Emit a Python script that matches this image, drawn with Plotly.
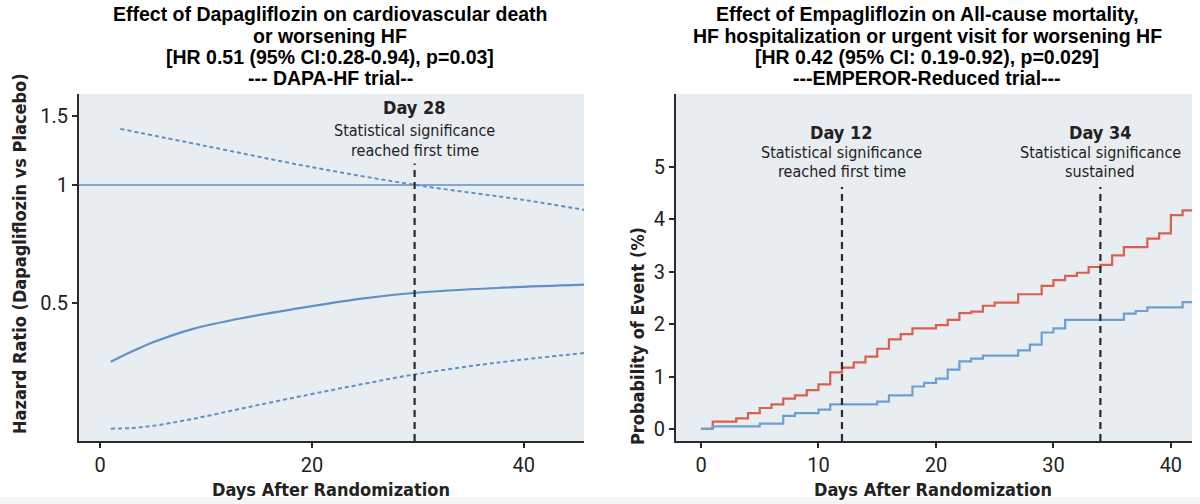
import plotly.graph_objects as go

# ---------------- data ----------------
# Left panel (DAPA-HF): hazard ratio over days
hr_days = [1.0, 3.0, 5.0, 8.7, 13.9, 20.0, 24.9, 29.8, 37.4, 45.8]
hr_est = [0.354, 0.376, 0.397, 0.429, 0.460, 0.491, 0.514, 0.531, 0.546, 0.557]
hr_low = [0.239, 0.240, 0.243, 0.253, 0.271, 0.293, 0.311, 0.329, 0.352, 0.373]
ci_up_days = [1.9, 10.0, 20.0, 30.0, 40.0, 45.8]
hr_high = [1.39, 1.257, 1.11, 0.998, 0.916, 0.863]
left_sig_day = [29.7]
left_xticks = [0, 20, 40]
left_yticks = [0.5, 1, 1.5]
left_yticklabels = ["0.5", "1", "1.5"]

# Right panel (EMPEROR-Reduced): cumulative probability of event (%)
placebo_days = [0, 1, 3, 4, 5, 6, 7, 8, 9, 10, 11, 12, 13, 14, 15, 16, 17, 18, 20, 21,
                22, 23, 24, 25, 27, 29, 30, 31, 32, 33, 34, 35, 36, 38, 39, 40, 41, 42]
placebo_pct = [0, 0.14, 0.20, 0.30, 0.40, 0.47, 0.58, 0.64, 0.74, 0.85, 1.08, 1.17, 1.27,
               1.38, 1.53, 1.71, 1.81, 1.92, 1.98, 2.08, 2.21, 2.24, 2.35, 2.41, 2.57, 2.73,
               2.84, 2.92, 2.98, 3.09, 3.13, 3.31, 3.47, 3.63, 3.73, 4.08, 4.17, 4.17]
empa_days = [0, 1, 5, 7, 8, 10, 11, 15, 16, 18, 19, 20, 21, 22, 23, 24, 27, 28, 29, 30,
             31, 36, 37, 38, 41, 42]
empa_pct = [0, 0.05, 0.10, 0.25, 0.30, 0.37, 0.47, 0.52, 0.64, 0.81, 0.88, 0.96, 1.13,
            1.29, 1.34, 1.40, 1.50, 1.61, 1.84, 1.92, 2.08, 2.20, 2.25, 2.32, 2.42, 2.42]
right_sig_days = [12, 34]
right_sig_labels = ["Day 12", "Day 34"]
right_sig_texts = [["Statistical significance", "reached first time"],
                   ["Statistical significance", "sustained"]]
right_xticks = [0, 10, 20, 30, 40]
right_yticks = [0, 1, 2, 3, 4, 5]

left_title = ["Effect of Dapagliflozin on cardiovascular death",
              "or worsening HF",
              "[HR 0.51 (95% CI:0.28-0.94), p=0.03]",
              "--- DAPA-HF trial--"]
right_title = ["Effect of Empagliflozin on All-cause mortality,",
               "HF hospitalization or urgent visit for worsening HF",
               "[HR 0.42 (95% CI: 0.19-0.92), p=0.029]",
               "---EMPEROR-Reduced trial---"]

# ---------------- styles ----------------
BLUE = "#5f90c8"
BLUE_STEP = "#6d9fd0"
RED = "#d9604f"
DARK = "#2a2a2a"
BG = "#e8edf1"
FONT = "Roboto, sans-serif"
NARROW = "DejaVu Sans Condensed, Roboto, sans-serif"
TITLE_FONT = "Liberation Sans, Arial, sans-serif"
H = 504.0
W = 1200.0

fig = go.Figure()

# Left panel traces
fig.add_trace(go.Scatter(x=ci_up_days, y=hr_high, mode="lines",
                         line=dict(color=BLUE, width=2, dash="4px,3px", shape="spline"),
                         xaxis="x", yaxis="y", showlegend=False, hoverinfo="skip"))
fig.add_trace(go.Scatter(x=hr_days, y=hr_low, mode="lines",
                         line=dict(color=BLUE, width=2, dash="4px,3px", shape="spline"),
                         xaxis="x", yaxis="y", showlegend=False, hoverinfo="skip"))
fig.add_trace(go.Scatter(x=hr_days, y=hr_est, mode="lines",
                         line=dict(color=BLUE, width=2.2, shape="spline"),
                         xaxis="x", yaxis="y", showlegend=False, hoverinfo="skip"))

# Right panel traces
fig.add_trace(go.Scatter(x=placebo_days, y=placebo_pct, mode="lines",
                         line=dict(color=RED, width=2.2, shape="hv"),
                         xaxis="x2", yaxis="y2", showlegend=False, hoverinfo="skip"))
fig.add_trace(go.Scatter(x=empa_days, y=empa_pct, mode="lines",
                         line=dict(color=BLUE_STEP, width=2.2, shape="hv"),
                         xaxis="x2", yaxis="y2", showlegend=False, hoverinfo="skip"))

axis_common = dict(showgrid=False, zeroline=False, showline=True, linecolor=DARK, linewidth=2,
                   ticks="outside", tickcolor=DARK, tickwidth=2, ticklen=5,
                   tickfont=dict(family=FONT, size=20, color="#222"), mirror=False)

fig.update_layout(
    width=1200, height=504,
    margin=dict(l=0, r=0, t=0, b=0),
    paper_bgcolor="white", plot_bgcolor=BG,
    xaxis=dict(domain=[79/W, 584/W], range=[-2.0, 45.7], tickvals=left_xticks, anchor="y", **axis_common),
    yaxis=dict(domain=[1-441/H, 1-94/H], type="log", range=[-0.653, 0.232], tickvals=left_yticks,
               ticktext=left_yticklabels, anchor="x", **axis_common),
    xaxis2=dict(domain=[676/W, 1192/W], range=[-2.13, 41.8], tickvals=right_xticks, anchor="y2", **axis_common),
    yaxis2=dict(domain=[1-441/H, 1-94/H], range=[-0.23, 6.39], tickvals=right_yticks, anchor="x2", **axis_common),
)

shapes = []
# reference line HR = 1
shapes.append(dict(type="line", xref="x domain", yref="y", x0=0, x1=1, y0=1, y1=1,
                   line=dict(color=BLUE, width=1.6)))
for d in left_sig_day:
    shapes.append(dict(type="line", xref="x", yref="y domain", x0=d, x1=d, y0=0, y1=0.8,
                       line=dict(color=DARK, width=2.2, dash="7px,5px")))
for d in right_sig_days:
    shapes.append(dict(type="line", xref="x2", yref="y2 domain", x0=d, x1=d, y0=0, y1=0.732,
                       line=dict(color=DARK, width=2.2, dash="7px,5px")))
shapes.append(dict(type="rect", xref="paper", yref="paper", x0=0, x1=1, y0=0, y1=7/H,
                   fillcolor="#f4f4f4", line=dict(width=0), layer="below"))
fig.update_layout(shapes=shapes)

ann = []
# titles (one annotation per line to control line spacing)
title_rows = [14, 36, 57, 78]
for lines, cx in ((left_title, 330), (right_title, 927)):
    for txt, yy in zip(lines, title_rows):
        ann.append(dict(text="<b>" + txt + "</b>", xref="paper", yref="paper", x=cx/W, y=1-yy/H,
                        xanchor="center", yanchor="middle", showarrow=False,
                        font=dict(family=TITLE_FONT, size=19.5, color="black")))
# left significance annotation
ann.append(dict(text="<b>Day 28</b>", xref="x", yref="paper", x=left_sig_day[0], y=1-107/H,
                xanchor="center", yanchor="middle", showarrow=False,
                font=dict(family=NARROW, size=18, color="#222")))
for txt, yy in zip(["Statistical significance", "reached first time"], [130, 150]):
    ann.append(dict(text=txt, xref="x", yref="paper", x=left_sig_day[0], y=1-yy/H,
                    xanchor="center", yanchor="middle",
                    showarrow=False, font=dict(family=NARROW, size=16, color="#222")))
for d, lab, txts in zip(right_sig_days, right_sig_labels, right_sig_texts):
    ann.append(dict(text="<b>" + lab + "</b>", xref="x2", yref="paper", x=d, y=1-133/H,
                    xanchor="center", yanchor="middle", showarrow=False,
                    font=dict(family=NARROW, size=18, color="#222")))
    for txt, yy in zip(txts, [152, 171]):
        ann.append(dict(text=txt, xref="x2", yref="paper", x=d, y=1-yy/H,
                        xanchor="center", yanchor="middle",
                        showarrow=False, font=dict(family=NARROW, size=16, color="#222")))
# axis titles
for cx in (331, 933):
    ann.append(dict(text="<b>Days After Randomization</b>", xref="paper", yref="paper", x=cx/W, y=1-489/H,
                    xanchor="center", yanchor="middle", showarrow=False,
                    font=dict(family=NARROW, size=18, color="#222")))
ann.append(dict(text="<b>Hazard Ratio (Dapagliflozin vs Placebo)</b>", xref="paper", yref="paper",
                x=19/W, y=1-254/H, textangle=-90, xanchor="center", yanchor="middle", showarrow=False,
                font=dict(family=NARROW, size=18, color="#222")))
ann.append(dict(text="<b>Probability of Event (%)</b>", xref="paper", yref="paper",
                x=637/W, y=1-336/H, textangle=-90, xanchor="center", yanchor="middle", showarrow=False,
                font=dict(family=NARROW, size=18, color="#222")))
fig.update_layout(annotations=ann)

fig.write_html("out.html", config={"displayModeBar": False},
               post_script="document.body.style.margin='0';document.body.style.padding='0';")
